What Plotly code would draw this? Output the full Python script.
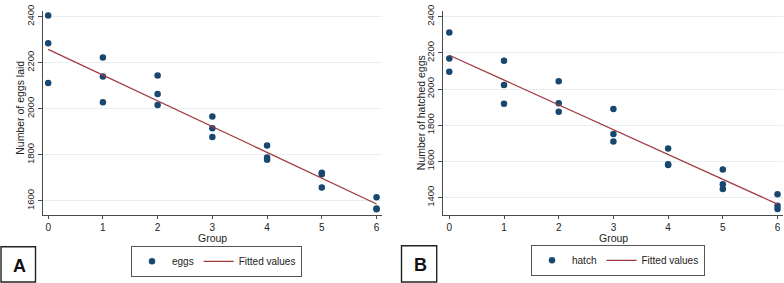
import plotly.graph_objects as go

# ---- data ----
group_a = [0, 0, 0, 1, 1, 1, 2, 2, 2, 3, 3, 3, 4, 4, 4, 5, 5, 5, 6, 6, 6]
eggs = [2405, 2284, 2112, 2223, 2140, 2028, 2145, 2064, 2016, 1967, 1916, 1878,
        1841, 1789, 1779, 1722, 1716, 1658, 1616, 1567, 1564]
fit_x = [0, 6]
fit_eggs = [2258, 1587]

group_b = [0, 0, 0, 1, 1, 1, 2, 2, 2, 3, 3, 3, 4, 4, 4, 5, 5, 5, 6, 6, 6]
hatch = [2312, 2169, 2095, 2157, 2022, 1919, 2043, 1922, 1874, 1890, 1751, 1710,
         1672, 1584, 1580, 1555, 1474, 1448, 1418, 1355, 1337]
fit_hatch = [2187, 1364]

x_ticks = [0, 1, 2, 3, 4, 5, 6]
y_ticks_a = [1600, 1800, 2000, 2200, 2400]
y_ticks_b = [1400, 1600, 1800, 2000, 2200, 2400]

W, H = 784, 283
NAVY = "#1a476f"
MAROON = "#a0393f"
GRID = "#e6eff1"
AXC = "#4a4a4a"
TXT = "#222222"
FONT = "Liberation Sans, Arial, sans-serif"

fig = go.Figure()
fig.add_trace(go.Scatter(x=group_a, y=eggs, mode="markers", name="eggs",
                         marker=dict(color=NAVY, size=6.5), xaxis="x", yaxis="y",
                         legend="legend"))
fig.add_trace(go.Scatter(x=fit_x, y=fit_eggs, mode="lines", name="Fitted values",
                         line=dict(color=MAROON, width=1.2), xaxis="x", yaxis="y",
                         legend="legend"))
fig.add_trace(go.Scatter(x=group_b, y=hatch, mode="markers", name="hatch",
                         marker=dict(color=NAVY, size=6.5), xaxis="x2", yaxis="y2",
                         legend="legend2"))
fig.add_trace(go.Scatter(x=fit_x, y=fit_hatch, mode="lines", name="Fitted values",
                         line=dict(color=MAROON, width=1.2), xaxis="x2", yaxis="y2",
                         legend="legend2"))

def px(v):
    return v / W

def py(v):
    return 1 - v / H

ydom = [py(213.3), py(5)]

common_x = dict(tickmode="array", tickvals=x_ticks, showgrid=False, zeroline=False,
                showline=True, linecolor=AXC, linewidth=1, ticks="outside",
                ticklen=3, tickcolor=AXC, tickfont=dict(size=10, color=TXT, family=FONT))
common_y = dict(showgrid=True, gridcolor=GRID, gridwidth=1, zeroline=False,
                showline=True, linecolor=AXC, linewidth=1, ticks="outside",
                ticklen=4, tickcolor=AXC, tickangle=-90, ticklabeloverflow="allow",
                tickfont=dict(size=9.5, color=TXT, family=FONT))

fig.update_layout(
    width=W, height=H,
    margin=dict(l=0, r=0, t=0, b=0),
    paper_bgcolor="white", plot_bgcolor="white",
    font=dict(family=FONT, color=TXT),
    xaxis=dict(domain=[px(42.7), px(382)], range=[-0.1, 6.1], anchor="y", **common_x),
    yaxis=dict(domain=ydom, range=[1540, 2425], anchor="x", tickmode="array",
               tickvals=y_ticks_a, **common_y),
    xaxis2=dict(domain=[px(443), px(783)], range=[-0.115, 6.1], anchor="y2", **common_x),
    yaxis2=dict(domain=ydom, range=[1305, 2432], anchor="x2", tickmode="array",
                tickvals=y_ticks_b, **common_y),
    legend=dict(orientation="h", x=px(131), y=py(245), xanchor="left", yanchor="top",
                bordercolor="#555", borderwidth=1, bgcolor="white",
                font=dict(size=10, color=TXT, family=FONT), itemwidth=30),
    legend2=dict(orientation="h", x=px(531), y=py(244), xanchor="left", yanchor="top",
                 bordercolor="#555", borderwidth=1, bgcolor="white",
                 font=dict(size=10, color=TXT, family=FONT), itemwidth=30),
    showlegend=True,
)

# axis titles
for x, y, text, angle in [(20, 104, "Number of eggs laid", -90),
                          (420.5, 109, "Number of hatched eggs", -90),
                          (212.5, 237, "Group", 0),
                          (613.7, 237, "Group", 0)]:
    fig.add_annotation(xref="paper", yref="paper", x=px(x), y=py(y), text=text,
                       textangle=angle, showarrow=False, xanchor="center", yanchor="middle",
                       font=dict(size=10.5, color=TXT, family=FONT))

# panel label boxes
for x0, x1, y0, cx, cy, label in [(1, 35.5, 246, 19.5, 265.5, "A"),
                                  (401.5, 436.7, 245, 420.5, 265, "B")]:
    fig.add_shape(type="rect", xref="paper", yref="paper",
                  x0=px(x0), x1=px(x1), y0=py(282), y1=py(y0),
                  line=dict(color="#222", width=1.4), fillcolor="white")
    fig.add_annotation(xref="paper", yref="paper", x=px(cx), y=py(cy),
                       text="<b>%s</b>" % label, showarrow=False,
                       font=dict(size=18, color="#111", family=FONT),
                       xanchor="center", yanchor="middle")

fig.write_html("out.html", config={"displayModeBar": False},
               post_script="document.body.style.margin='0px';document.body.style.overflow='hidden';")
